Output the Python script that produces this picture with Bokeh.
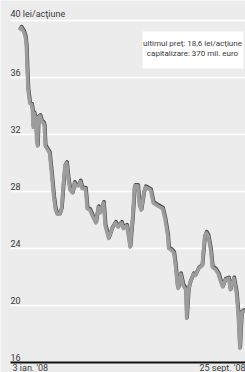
from bokeh.plotting import figure
from bokeh.models import Range1d
from bokeh.core.properties import value
from bokeh.embed import file_html
from bokeh.resources import INLINE
import numpy as np

# ---------------- data ----------------
# trading days counted from 3 Jan 2008
days = [0, 2, 5, 7, 8, 9, 10, 12, 14, 15, 16, 17, 19, 20, 21, 22, 24, 26, 28, 29,
        30, 33, 35, 37, 40, 42, 44, 47, 49, 51, 53, 55, 57, 59, 62, 64, 66, 69, 71, 73,
        77, 79, 82, 85, 89, 92, 94, 98, 100, 104, 108, 112, 115, 119, 121, 125, 127, 129, 132, 134,
        135, 138, 140, 142, 145, 147, 150, 153, 156, 161, 167, 170, 173, 174, 177, 180, 182, 184, 185, 188,
        191, 194, 195, 197, 199, 203, 205, 209, 213, 216, 218, 220, 223, 225, 229, 232, 234, 237, 240, 244,
        246, 250, 253, 255, 257, 259, 261, 264]
price = [39.3, 39.5, 39.2, 38.8, 38.2, 36.5, 35.1, 34.2, 34.1, 33.8, 32.5, 33.5, 33.0, 31.6, 31.2, 33.2, 33.3, 32.9, 32.8, 32.6,
         31.2, 30.9, 30.7, 29.5, 27.6, 26.7, 26.4, 26.4, 26.8, 28.4, 29.8, 30.0, 28.8, 28.1, 27.9, 28.6, 28.4, 28.4, 28.7, 28.2,
         28.2, 26.8, 26.7, 26.3, 25.8, 26.9, 26.5, 27.2, 25.6, 24.7, 25.4, 25.8, 25.5, 25.8, 25.4, 25.6, 24.9, 24.1, 26.2, 28.2,
         28.4, 28.4, 27.0, 26.7, 27.9, 28.3, 28.2, 28.1, 27.2, 27.0, 26.8, 26.0, 24.9, 24.0, 23.9, 23.7, 22.8, 21.5, 21.2, 22.2,
         21.4, 21.1, 19.1, 21.1, 21.6, 22.2, 22.1, 22.6, 22.8, 24.8, 25.1, 24.9, 23.9, 22.7, 22.5, 22.2, 21.8, 21.3, 21.8, 21.9,
         21.1, 21.9, 20.9, 19.5, 17.0, 19.5, 19.6, 19.6]
y_ticks = [16, 20, 24, 28, 32, 36, 40]
y_labels = ["16", "20", "24", "28", "32", "36", "40 lei/acţiune"]
x_label_days = [0, 266]
x_labels = ["3 ian. '08", "25 sept. '08"]
note_lines = ["ultimul preţ: 18,6 lei/acţiune", "capitalizare: 370 mil. euro"]

# ---------------- layout ----------------
W, H = 245, 372
X0, XSCALE = -22.2, 1.1667        # days at px 0, days per px
YTOP, YSCALE = 41.404, 1 / 14.25  # value at px 0, value per px


def px_x(px):
    return X0 + px * XSCALE


def px_y(py):
    return YTOP - py * YSCALE


FONT = value("Roboto")
FS = "9px"
BG = "#ececec"
TXT = "#3a3a3a"

p = figure(width=W, height=H, output_backend="svg", toolbar_location=None,
           x_range=Range1d(px_x(0), px_x(W)), y_range=Range1d(px_y(H), px_y(0)),
           x_axis_type=None, y_axis_type=None, min_border=0)
p.grid.visible = False
p.outline_line_color = None
p.background_fill_color = BG
p.border_fill_color = BG

# gridlines (white) for all ticks except baseline
gy = [t for t in y_ticks if t != y_ticks[0]]
p.segment(x0=[px_x(10)] * len(gy), x1=[px_x(W)] * len(gy), y0=gy, y1=gy,
          line_color="white", line_width=1.6)

# tick labels above lines
p.text(x=[px_x(10)] * len(y_ticks), y=y_ticks, text=y_labels, text_font=FONT,
       text_font_size=FS, text_color=TXT, text_baseline="bottom", text_align="left",
       y_offset=-2)

# annotation box
p.quad(left=[px_x(142)], right=[px_x(243)], top=[px_y(31)], bottom=[px_y(68)],
       fill_color="white", line_color=None)
p.text(x=[px_x(192)] * 2, y=[px_y(43), px_y(53)], text=note_lines, text_font=FONT,
       text_font_size="8px", text_color=TXT, text_align="center", text_baseline="middle")

# price line with darker edge
d = np.array(days, dtype=float)
v = np.array(price, dtype=float)
p.line(d + 0.4 * XSCALE, v + 1.0 * YSCALE, line_color="#4a4a4a", line_width=3.8,
       line_join="round")
p.line(d, v, line_color="#9c9c9c", line_width=3.6, line_join="round")

# baseline
p.segment(x0=[px_x(10)], x1=[px_x(W)], y0=[y_ticks[0]], y1=[y_ticks[0]],
          line_color="#111111", line_width=1.8)

# x labels
p.text(x=[x_label_days[0]], y=[y_ticks[0]], text=[x_labels[0]], text_font=FONT,
       text_font_size=FS, text_color=TXT, text_align="left", text_baseline="top",
       x_offset=-7, y_offset=0)
p.text(x=[x_label_days[1]], y=[y_ticks[0]], text=[x_labels[1]], text_font=FONT,
       text_font_size=FS, text_color=TXT, text_align="right", text_baseline="top",
       x_offset=-2, y_offset=0)

html = file_html(p, INLINE, title="chart")
html = html.replace("<head>", "<head><style>html,body{margin:0;padding:0;overflow:hidden;}</style>", 1)
open("out.html", "w").write(html)
